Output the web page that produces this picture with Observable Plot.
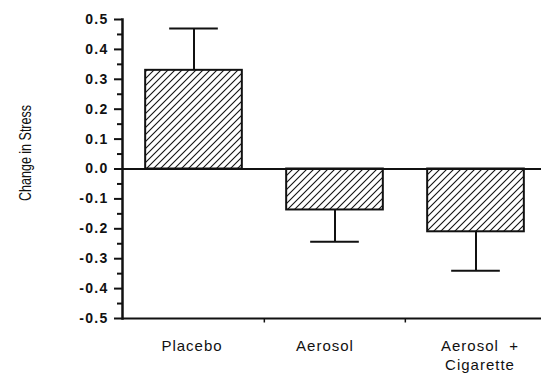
<!DOCTYPE html>
<html>
<head>
<meta charset="utf-8">
<script src="https://cdn.jsdelivr.net/npm/d3@7"></script>
<script src="https://cdn.jsdelivr.net/npm/@observablehq/plot@0.6"></script>
<style>
  html, body { margin: 0; padding: 0; background: #fff; }
  svg { display: block; }
  .cat text { letter-spacing: 1px; }
  .ylab text { letter-spacing: 1.3px; }
</style>
</head>
<body>
<div id="chart"></div>
<script>
const categories = ["Placebo", "Aerosol", "Aerosol + Cigarette"];
const labels = ["Placebo", "Aerosol", "Aerosol  +\nCigarette"];
const means = [0.33, -0.137, -0.21];
const errEnds = [0.47, -0.243, -0.34];
const majorTicks = [0.5, 0.4, 0.3, 0.2, 0.1, 0.0, -0.1, -0.2, -0.3, -0.4, -0.5];
const minorTicks = [0.45, 0.35, 0.25, 0.15, 0.05, -0.05, -0.15, -0.25, -0.35, -0.45];
const yTitle = "Change in Stress";

const data = categories.map((c, i) => ({cat: c, label: labels[i], mean: means[i], end: errEnds[i]}));

const W = 541, H = 374;
const xRange = [122, 546];
const step = (xRange[1] - xRange[0]) / categories.length;
const barW = 97, capW = 49;
const barInset = (step - barW) / 2, capInset = (step - capW) / 2;
const labelDx = [-2, -10, 4];

const catText = (i) => Plot.text([data[i]], {
  x: "cat", y: () => -0.5, text: "label",
  dx: labelDx[i], dy: 19, lineAnchor: "top", lineHeight: 1.27,
  fontSize: 15, fontFamily: "Liberation Sans, Arial, sans-serif",
  fill: "#111", className: "cat"
});

const svg = Plot.plot({
  width: W, height: H,
  marginLeft: 122, marginRight: 0, marginTop: 19, marginBottom: 56,
  style: {fontFamily: "Liberation Sans, Arial, sans-serif", color: "#111", background: "#fff"},
  x: {type: "band", domain: categories, range: xRange, padding: 0, axis: null},
  y: {domain: [-0.5, 0.5], axis: null},
  marks: [
    Plot.barY(data, {x: "cat", y: "mean", insetLeft: barInset, insetRight: barInset,
      fill: "url(#hatch)", stroke: "#111", strokeWidth: 2}),
    Plot.ruleX(data, {x: "cat", y1: "mean", y2: "end", stroke: "#111", strokeWidth: 2}),
    Plot.tickY(data, {x: "cat", y: "end", insetLeft: capInset, insetRight: capInset,
      stroke: "#111", strokeWidth: 2}),
    Plot.ruleY([0], {stroke: "#111", strokeWidth: 2}),
    Plot.ruleY([-0.5], {stroke: "#111", strokeWidth: 2}),
    Plot.ruleX(categories.slice(1), {x: d => d, dx: -step / 2, y1: -0.5, y2: -0.515,
      stroke: "#111", strokeWidth: 1.5}),
    Plot.axisY({ticks: majorTicks, tickSize: 8, tickPadding: 6, strokeWidth: 2,
      tickFormat: d => d.toFixed(1), fontSize: 14, fontWeight: "bold", className: "ylab"}),
    Plot.axisY({ticks: minorTicks, tickSize: 5, strokeWidth: 2, tickFormat: () => ""}),
    Plot.frame({anchor: "left", stroke: "#111", strokeWidth: 2.5}),
    catText(0), catText(1), catText(2),
    Plot.text([yTitle], {frameAnchor: "left", text: d => d, rotate: -90, textAnchor: "middle",
      dx: -97, dy: -16, fontSize: 16, fill: "#111", className: "ytitle"})
  ]
});

d3.select(svg).select(".ytitle text")
  .attr("textLength", 96).attr("lengthAdjust", "spacingAndGlyphs");

const defs = d3.select(svg).insert("defs", ":first-child");
const pat = defs.append("pattern").attr("id", "hatch").attr("patternUnits", "userSpaceOnUse")
  .attr("width", 7).attr("height", 7);
pat.append("rect").attr("width", 7).attr("height", 7).attr("fill", "#fff");
pat.append("path").attr("d", "M-1,1 l2,-2 M0,7 l7,-7 M6,8 l2,-2")
  .attr("stroke", "#111").attr("stroke-width", 1.1);

document.getElementById("chart").appendChild(svg);
</script>
</body>
</html>
